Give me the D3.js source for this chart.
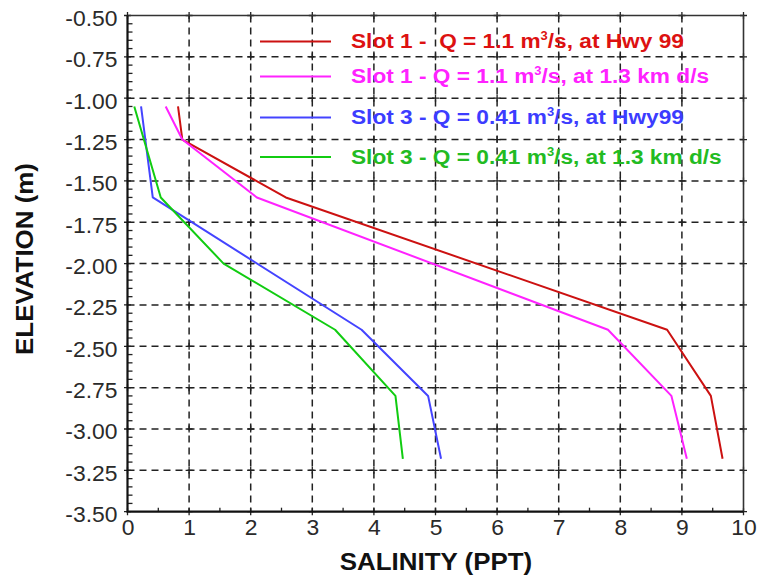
<!DOCTYPE html>
<html>
<head>
<meta charset="utf-8">
<script src="https://cdn.jsdelivr.net/npm/d3@7"></script>
<style>
  body { margin: 0; background: #fff; }
  text { font-family: "Liberation Sans", Arial, sans-serif; }
</style>
</head>
<body>
<div id="chart"></div>
<script>
(function(d3) {
    'use strict'

    // data
    var seriesNames = [
        'Slot 1 -  Q = 1.1 m|3|/s, at Hwy 99',
        'Slot 1 - Q = 1.1 m|3|/s, at 1.3 km d/s',
        'Slot 3 - Q = 0.41 m|3|/s, at Hwy99',
        'Slot 3 - Q = 0.41 m|3|/s, at 1.3 km d/s'
    ];
    var slot1HwyElev = [-1.05, -1.25, -1.6, -2.4, -2.8, -3.18];
    var slot1HwySal  = [0.82, 0.89, 2.57, 8.76, 9.47, 9.66];
    var slot1DsElev  = [-1.05, -1.25, -1.6, -2.4, -2.8, -3.18];
    var slot1DsSal   = [0.62, 0.89, 2.10, 7.80, 8.83, 9.08];
    var slot3HwyElev = [-1.05, -1.6, -2.4, -2.8, -3.18];
    var slot3HwySal  = [0.22, 0.41, 3.80, 4.88, 5.09];
    var slot3DsElev  = [-1.05, -1.6, -2.0, -2.4, -2.8, -3.18];
    var slot3DsSal   = [0.11, 0.54, 1.56, 3.37, 4.35, 4.47];
    var xTicks = [0, 1, 2, 3, 4, 5, 6, 7, 8, 9, 10];
    var yTicks = [-0.5, -0.75, -1.0, -1.25, -1.5, -1.75, -2.0, -2.25, -2.5, -2.75, -3.0, -3.25, -3.5];

    var lineColors = ['#cc1111', '#ff22ff', '#4444ff', '#11cc11'];
    var textColors = ['#dd1111', '#ff22ff', '#3c3cff', '#22bb22'];

    var width = 759;
    var height = 578;
    var margin = {left: 127.5, top: 15.5, right: 15.5, bottom: 66.3};
    var pw = width - margin.left - margin.right;
    var ph = height - margin.top - margin.bottom;
    var stretch = 1.08;

    var series = [
        {sal: slot1HwySal, elev: slot1HwyElev},
        {sal: slot1DsSal, elev: slot1DsElev},
        {sal: slot3HwySal, elev: slot3HwyElev},
        {sal: slot3DsSal, elev: slot3DsElev}
    ];

    var svg = d3.select('#chart')
        .append('svg')
        .attr('width', width)
        .attr('height', height);

    var g = svg.append('g')
        .attr('transform', 'translate(' + margin.left + ',' + margin.top + ')');

    var x = d3.scaleLinear().domain([0, 10]).range([0, pw]);
    var y = d3.scaleLinear().domain([-0.5, -3.5]).range([0, ph]);

    // grid
    var dash = '7,5';
    g.selectAll('.vgrid')
        .data(xTicks.slice(1, -1))
        .enter()
        .append('line')
        .attr('x1', function(d) { return x(d); })
        .attr('x2', function(d) { return x(d); })
        .attr('y1', 0)
        .attr('y2', ph)
        .attr('stroke', '#222')
        .attr('stroke-width', 1.5)
        .attr('stroke-dasharray', dash);

    g.selectAll('.hgrid')
        .data(yTicks.slice(1, -1))
        .enter()
        .append('line')
        .attr('x1', 0)
        .attr('x2', pw)
        .attr('y1', function(d) { return y(d); })
        .attr('y2', function(d) { return y(d); })
        .attr('stroke', '#222')
        .attr('stroke-width', 1.5)
        .attr('stroke-dasharray', dash);

    // small crosses at grid intersections
    var cross = [];
    xTicks.forEach(function(a) {
        yTicks.forEach(function(b) { cross.push([a, b]); });
    });
    g.selectAll('.cross')
        .data(cross)
        .enter()
        .append('path')
        .attr('d', function(d) {
            var cx = x(d[0]), cy = y(d[1]);
            return 'M' + (cx - 3.5) + ',' + cy + 'H' + (cx + 3.5) +
                'M' + cx + ',' + (cy - 3.5) + 'V' + (cy + 3.5);
        })
        .attr('stroke', '#222')
        .attr('stroke-width', 1.3);

    // minor ticks
    var minorX = d3.range(0.5, 10, 1);
    var minorY = d3.range(-0.55, -3.49, -0.05).filter(function(v) {
        return Math.abs(v * 4 - Math.round(v * 4)) > 0.01;
    });
    g.selectAll('.mx')
        .data(minorX)
        .enter()
        .append('line')
        .attr('x1', function(d) { return x(d); })
        .attr('x2', function(d) { return x(d); })
        .attr('y1', ph)
        .attr('y2', ph - 4)
        .attr('stroke', '#222')
        .attr('stroke-width', 1.3);
    g.selectAll('.my')
        .data(minorY)
        .enter()
        .append('line')
        .attr('x1', 0)
        .attr('x2', 5)
        .attr('y1', function(d) { return y(d); })
        .attr('y2', function(d) { return y(d); })
        .attr('stroke', '#222')
        .attr('stroke-width', 1.3);

    // frame
    g.append('path')
        .attr('d', 'M0,0H' + pw + 'V' + ph)
        .attr('fill', 'none')
        .attr('stroke', '#333')
        .attr('stroke-width', 1.6);
    g.append('path')
        .attr('d', 'M0,0V' + ph + 'H' + pw)
        .attr('fill', 'none')
        .attr('stroke', '#111')
        .attr('stroke-width', 2.2);

    // tick labels (axes without lines)
    var yFmt = function(d) { return d3.format('.2f')(d).replace('\u2212', '-'); };
    var xAxis = g.append('g')
        .attr('transform', 'translate(0,' + ph + ')')
        .call(d3.axisBottom(x).tickValues(xTicks).tickSize(0).tickPadding(0).tickFormat(d3.format('d')));
    var yAxis = g.append('g')
        .call(d3.axisLeft(y).tickValues(yTicks).tickSize(0).tickPadding(0).tickFormat(yFmt));
    [xAxis, yAxis].forEach(function(a) { a.select('.domain').remove(); });

    xAxis.selectAll('text')
        .attr('y', 0)
        .attr('dy', 0)
        .attr('transform', 'translate(0,23.5) scale(1.04,1)')
        .attr('fill', '#2a2a2a')
        .style('font-size', '22px');
    yAxis.selectAll('text')
        .attr('x', 0)
        .attr('dy', '0.45em')
        .attr('transform', 'translate(-10,0) scale(1.04,1)')
        .attr('fill', '#2a2a2a')
        .style('font-size', '22px');

    // series lines
    var line = d3.line()
        .x(function(d) { return x(d[0]); })
        .y(function(d) { return y(d[1]); });

    g.selectAll('.series')
        .data(series)
        .enter()
        .append('path')
        .attr('d', function(s) { return line(d3.zip(s.sal, s.elev)); })
        .attr('fill', 'none')
        .attr('stroke', function(d, i) { return lineColors[i]; })
        .attr('stroke-width', 2)
        .attr('stroke-linejoin', 'round');

    // legend
    var legendY = [41.5, 76.5, 117.5, 157];
    var legend = svg.selectAll('.legend')
        .data(seriesNames)
        .enter()
        .append('g')
        .attr('transform', function(d, i) { return 'translate(260,' + legendY[i] + ')'; });

    legend.append('line')
        .attr('x1', 0)
        .attr('x2', 71)
        .attr('stroke', function(d, i) { return lineColors[i]; })
        .attr('stroke-width', 2.2);

    var lt = legend.append('text')
        .attr('transform', 'translate(91,6.5) scale(' + stretch + ',1)')
        .attr('fill', function(d, i) { return textColors[i]; })
        .style('font-size', '21px')
        .style('font-weight', 'bold')
        .style('white-space', 'pre');
    lt.each(function(d) {
        var parts = d.split('|');
        var t = d3.select(this);
        t.append('tspan').text(parts[0]);
        t.append('tspan').attr('dy', -8).style('font-size', '12px').text(parts[1]);
        t.append('tspan').attr('dy', 8).text(parts[2]);
    });

    // axis titles
    svg.append('text')
        .attr('transform', 'translate(436,569.5) scale(' + stretch + ',1)')
        .attr('text-anchor', 'middle')
        .attr('fill', '#111')
        .style('font-size', '24px')
        .style('font-weight', 'bold')
        .text('SALINITY (PPT)');

    svg.append('text')
        .attr('transform', 'translate(32.5,259) rotate(-90) scale(' + stretch + ',1)')
        .attr('text-anchor', 'middle')
        .attr('fill', '#111')
        .style('font-size', '24px')
        .style('font-weight', 'bold')
        .text('ELEVATION (m)');

})(window.d3);
</script>
</body>
</html>
